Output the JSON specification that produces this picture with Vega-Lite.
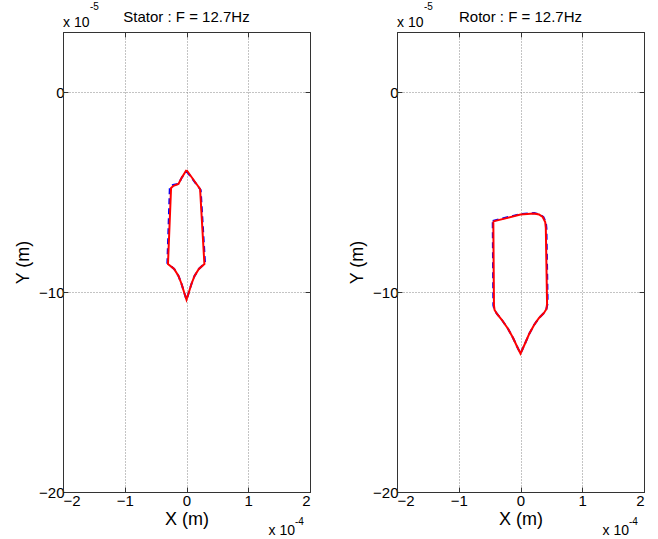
{
  "$schema": "https://vega.github.io/schema/vega-lite/v6.json",
  "background": "white",
  "padding": {"left": 14, "top": 1, "right": 5, "bottom": 0},
  "datasets": {
    "stator": [
      {"s": "meas", "i": 0, "x": 0.0, "y": -3.9},
      {"s": "meas", "i": 1, "x": 0.22, "y": -4.85},
      {"s": "meas", "i": 2, "x": 0.29, "y": -8.6},
      {"s": "meas", "i": 3, "x": 0.2, "y": -8.85},
      {"s": "meas", "i": 4, "x": 0.13, "y": -9.2},
      {"s": "meas", "i": 5, "x": 0.08, "y": -9.6},
      {"s": "meas", "i": 6, "x": 0.04, "y": -10.0},
      {"s": "meas", "i": 7, "x": 0.0, "y": -10.39},
      {"s": "meas", "i": 8, "x": -0.04, "y": -10.0},
      {"s": "meas", "i": 9, "x": -0.08, "y": -9.6},
      {"s": "meas", "i": 10, "x": -0.13, "y": -9.2},
      {"s": "meas", "i": 11, "x": -0.2, "y": -8.85},
      {"s": "meas", "i": 12, "x": -0.3, "y": -8.6},
      {"s": "meas", "i": 13, "x": -0.25, "y": -4.8},
      {"s": "meas", "i": 14, "x": -0.21, "y": -4.69},
      {"s": "meas", "i": 15, "x": -0.13, "y": -4.6},
      {"s": "meas", "i": 16, "x": -0.075, "y": -4.27},
      {"s": "meas", "i": 17, "x": 0.0, "y": -3.9},
      {"s": "model", "i": 0, "x": 0.0, "y": -3.95},
      {"s": "model", "i": 1, "x": 0.23, "y": -4.9},
      {"s": "model", "i": 2, "x": 0.3, "y": -8.55},
      {"s": "model", "i": 3, "x": 0.2, "y": -8.85},
      {"s": "model", "i": 4, "x": 0.13, "y": -9.2},
      {"s": "model", "i": 5, "x": 0.08, "y": -9.6},
      {"s": "model", "i": 6, "x": 0.04, "y": -10.0},
      {"s": "model", "i": 7, "x": 0.0, "y": -10.39},
      {"s": "model", "i": 8, "x": -0.04, "y": -10.0},
      {"s": "model", "i": 9, "x": -0.08, "y": -9.6},
      {"s": "model", "i": 10, "x": -0.13, "y": -9.2},
      {"s": "model", "i": 11, "x": -0.2, "y": -8.85},
      {"s": "model", "i": 12, "x": -0.31, "y": -8.55},
      {"s": "model", "i": 13, "x": -0.27, "y": -4.75},
      {"s": "model", "i": 14, "x": -0.22, "y": -4.65},
      {"s": "model", "i": 15, "x": -0.13, "y": -4.6},
      {"s": "model", "i": 16, "x": -0.075, "y": -4.27},
      {"s": "model", "i": 17, "x": 0.0, "y": -3.95}
    ],
    "rotor": [
      {"s": "meas", "i": 0, "x": -0.44, "y": -6.47},
      {"s": "meas", "i": 1, "x": 0.0, "y": -6.13},
      {"s": "meas", "i": 2, "x": 0.22, "y": -6.07},
      {"s": "meas", "i": 3, "x": 0.3, "y": -6.12},
      {"s": "meas", "i": 4, "x": 0.36, "y": -6.25},
      {"s": "meas", "i": 5, "x": 0.4, "y": -6.5},
      {"s": "meas", "i": 6, "x": 0.41, "y": -6.8},
      {"s": "meas", "i": 7, "x": 0.43, "y": -10.59},
      {"s": "meas", "i": 8, "x": 0.42, "y": -10.85},
      {"s": "meas", "i": 9, "x": 0.38, "y": -11.05},
      {"s": "meas", "i": 10, "x": 0.3, "y": -11.3},
      {"s": "meas", "i": 11, "x": 0.22, "y": -11.65},
      {"s": "meas", "i": 12, "x": 0.14, "y": -12.1},
      {"s": "meas", "i": 13, "x": 0.07, "y": -12.6},
      {"s": "meas", "i": 14, "x": 0.0, "y": -13.08},
      {"s": "meas", "i": 15, "x": -0.06, "y": -12.7},
      {"s": "meas", "i": 16, "x": -0.12, "y": -12.3},
      {"s": "meas", "i": 17, "x": -0.2, "y": -11.85},
      {"s": "meas", "i": 18, "x": -0.3, "y": -11.4},
      {"s": "meas", "i": 19, "x": -0.38, "y": -11.1},
      {"s": "meas", "i": 20, "x": -0.42, "y": -10.9},
      {"s": "meas", "i": 21, "x": -0.43, "y": -10.67},
      {"s": "meas", "i": 22, "x": -0.44, "y": -6.47},
      {"s": "model", "i": 0, "x": -0.45, "y": -6.45},
      {"s": "model", "i": 1, "x": 0.0, "y": -6.1},
      {"s": "model", "i": 2, "x": 0.22, "y": -6.05},
      {"s": "model", "i": 3, "x": 0.31, "y": -6.12},
      {"s": "model", "i": 4, "x": 0.37, "y": -6.25},
      {"s": "model", "i": 5, "x": 0.41, "y": -6.5},
      {"s": "model", "i": 6, "x": 0.42, "y": -6.8},
      {"s": "model", "i": 7, "x": 0.44, "y": -10.55},
      {"s": "model", "i": 8, "x": 0.42, "y": -10.85},
      {"s": "model", "i": 9, "x": 0.38, "y": -11.05},
      {"s": "model", "i": 10, "x": 0.3, "y": -11.3},
      {"s": "model", "i": 11, "x": 0.22, "y": -11.65},
      {"s": "model", "i": 12, "x": 0.14, "y": -12.1},
      {"s": "model", "i": 13, "x": 0.07, "y": -12.6},
      {"s": "model", "i": 14, "x": 0.0, "y": -13.08},
      {"s": "model", "i": 15, "x": -0.06, "y": -12.7},
      {"s": "model", "i": 16, "x": -0.12, "y": -12.3},
      {"s": "model", "i": 17, "x": -0.2, "y": -11.85},
      {"s": "model", "i": 18, "x": -0.3, "y": -11.4},
      {"s": "model", "i": 19, "x": -0.38, "y": -11.1},
      {"s": "model", "i": 20, "x": -0.42, "y": -10.9},
      {"s": "model", "i": 21, "x": -0.44, "y": -10.67},
      {"s": "model", "i": 22, "x": -0.45, "y": -6.45}
    ]
  },
  "config": {
    "font": "Liberation Sans",
    "view": {"stroke": "#333333", "strokeWidth": 1},
    "text": {"font": "Liberation Sans", "color": "#000000"},
    "axis": {
      "labelFont": "Liberation Sans",
      "labelFontSize": 15,
      "labelColor": "#000000",
      "titleFont": "Liberation Sans",
      "titleFontSize": 18,
      "titleFontWeight": "normal",
      "titleColor": "#000000",
      "domainColor": "#333333",
      "tickColor": "#333333",
      "tickSize": -5,
      "gridColor": "#888888",
      "gridDash": [1, 2],
      "gridOpacity": 1
    },
    "axisX": {"labelPadding": 6},
    "axisY": {"labelPadding": 4}
  },
  "spacing": 37,
  "hconcat": [
    {
      "width": 247,
      "height": 460,
      "data": {"name": "stator"},
      "resolve": {"axis": {"x": "independent", "y": "independent"}},
      "layer": [
        {
          "transform": [{"filter": "datum.s === 'model'"}],
          "mark": {"type": "line", "color": "#0000ff", "strokeWidth": 2, "strokeDash": [6, 4]},
          "encoding": {
            "x": {"field": "x", "type": "quantitative", "scale": {"domain": [-2, 2], "nice": false, "zero": false}, "axis": {"values": [-2, -1, 0, 1, 2], "title": "X (m)", "grid": true, "titlePadding": 2}},
            "y": {"field": "y", "type": "quantitative", "scale": {"domain": [-20, 3], "nice": false, "zero": false}, "axis": {"values": [-20, -10, 0], "title": "Y (m)", "grid": true, "titlePadding": 6}},
            "order": {"field": "i"}
          }
        },
        {
          "transform": [{"filter": "datum.s === 'meas'"}],
          "mark": {"type": "line", "color": "#ff0000", "strokeWidth": 2},
          "encoding": {
            "x": {"field": "x", "type": "quantitative", "axis": {"orient": "top", "values": [-2, -1, 0, 1, 2], "labels": false, "title": null, "grid": false}},
            "y": {"field": "y", "type": "quantitative", "axis": {"orient": "right", "values": [-20, -10, 0], "labels": false, "title": null, "grid": false}},
            "order": {"field": "i"}
          }
        },
        {
          "data": {"values": [{"t": "Stator : F = 12.7Hz"}]},
          "mark": {"type": "text", "align": "center", "baseline": "alphabetic", "fontSize": 15, "dy": -10},
          "encoding": {"x": {"datum": 0, "type": "quantitative", "axis": null}, "y": {"datum": 3, "type": "quantitative", "axis": null}, "text": {"field": "t"}}
        },
        {
          "data": {"values": [{"t": "x 10", "e": "-5"}]},
          "mark": {"type": "text", "align": "left", "baseline": "alphabetic", "fontSize": 14, "dy": -5, "dx": 0},
          "encoding": {"x": {"datum": -2, "type": "quantitative", "axis": null}, "y": {"datum": 3, "type": "quantitative", "axis": null}, "text": {"field": "t"}}
        },
        {
          "data": {"values": [{"t": "x 10", "e": "-5"}]},
          "mark": {"type": "text", "align": "left", "baseline": "alphabetic", "fontSize": 10, "dy": -22, "dx": 27},
          "encoding": {"x": {"datum": -2, "type": "quantitative", "axis": null}, "y": {"datum": 3, "type": "quantitative", "axis": null}, "text": {"field": "e"}}
        },
        {
          "data": {"values": [{"t": "x 10", "e": "-4"}]},
          "mark": {"type": "text", "align": "right", "baseline": "alphabetic", "fontSize": 14, "dy": 43, "dx": -15},
          "encoding": {"x": {"datum": 2, "type": "quantitative", "axis": null}, "y": {"datum": -20, "type": "quantitative", "axis": null}, "text": {"field": "t"}}
        },
        {
          "data": {"values": [{"t": "x 10", "e": "-4"}]},
          "mark": {"type": "text", "align": "left", "baseline": "alphabetic", "fontSize": 10, "dy": 33, "dx": -15},
          "encoding": {"x": {"datum": 2, "type": "quantitative", "axis": null}, "y": {"datum": -20, "type": "quantitative", "axis": null}, "text": {"field": "e"}}
        }
      ]
    },
    {
      "width": 247,
      "height": 460,
      "data": {"name": "rotor"},
      "resolve": {"axis": {"x": "independent", "y": "independent"}},
      "layer": [
        {
          "transform": [{"filter": "datum.s === 'model'"}],
          "mark": {"type": "line", "color": "#0000ff", "strokeWidth": 2, "strokeDash": [6, 4]},
          "encoding": {
            "x": {"field": "x", "type": "quantitative", "scale": {"domain": [-2, 2], "nice": false, "zero": false}, "axis": {"values": [-2, -1, 0, 1, 2], "title": "X (m)", "grid": true, "titlePadding": 2}},
            "y": {"field": "y", "type": "quantitative", "scale": {"domain": [-20, 3], "nice": false, "zero": false}, "axis": {"values": [-20, -10, 0], "title": "Y (m)", "grid": true, "titlePadding": 6}},
            "order": {"field": "i"}
          }
        },
        {
          "transform": [{"filter": "datum.s === 'meas'"}],
          "mark": {"type": "line", "color": "#ff0000", "strokeWidth": 2},
          "encoding": {
            "x": {"field": "x", "type": "quantitative", "axis": {"orient": "top", "values": [-2, -1, 0, 1, 2], "labels": false, "title": null, "grid": false}},
            "y": {"field": "y", "type": "quantitative", "axis": {"orient": "right", "values": [-20, -10, 0], "labels": false, "title": null, "grid": false}},
            "order": {"field": "i"}
          }
        },
        {
          "data": {"values": [{"t": "Rotor : F = 12.7Hz"}]},
          "mark": {"type": "text", "align": "center", "baseline": "alphabetic", "fontSize": 15, "dy": -10},
          "encoding": {"x": {"datum": 0, "type": "quantitative", "axis": null}, "y": {"datum": 3, "type": "quantitative", "axis": null}, "text": {"field": "t"}}
        },
        {
          "data": {"values": [{"t": "x 10", "e": "-5"}]},
          "mark": {"type": "text", "align": "left", "baseline": "alphabetic", "fontSize": 14, "dy": -5, "dx": 0},
          "encoding": {"x": {"datum": -2, "type": "quantitative", "axis": null}, "y": {"datum": 3, "type": "quantitative", "axis": null}, "text": {"field": "t"}}
        },
        {
          "data": {"values": [{"t": "x 10", "e": "-5"}]},
          "mark": {"type": "text", "align": "left", "baseline": "alphabetic", "fontSize": 10, "dy": -22, "dx": 27},
          "encoding": {"x": {"datum": -2, "type": "quantitative", "axis": null}, "y": {"datum": 3, "type": "quantitative", "axis": null}, "text": {"field": "e"}}
        },
        {
          "data": {"values": [{"t": "x 10", "e": "-4"}]},
          "mark": {"type": "text", "align": "right", "baseline": "alphabetic", "fontSize": 14, "dy": 43, "dx": -15},
          "encoding": {"x": {"datum": 2, "type": "quantitative", "axis": null}, "y": {"datum": -20, "type": "quantitative", "axis": null}, "text": {"field": "t"}}
        },
        {
          "data": {"values": [{"t": "x 10", "e": "-4"}]},
          "mark": {"type": "text", "align": "left", "baseline": "alphabetic", "fontSize": 10, "dy": 33, "dx": -15},
          "encoding": {"x": {"datum": 2, "type": "quantitative", "axis": null}, "y": {"datum": -20, "type": "quantitative", "axis": null}, "text": {"field": "e"}}
        }
      ]
    }
  ]
}
